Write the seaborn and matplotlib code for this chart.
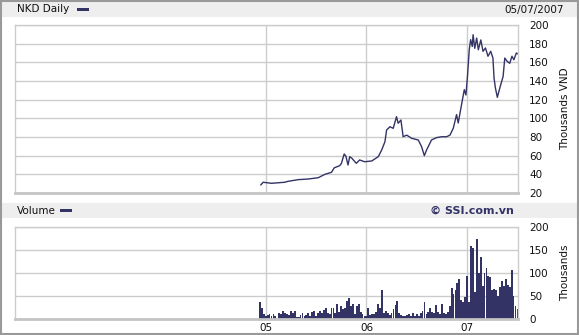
import matplotlib
matplotlib.use("Agg")
import matplotlib.pyplot as plt
import matplotlib.dates as mdates
from matplotlib.patches import Rectangle
import numpy as np
import pandas as pd
import seaborn as sns

# ---------------- data ----------------
price_dates = [
    "2004-12-13", "2004-12-22", "2005-01-21", "2005-03-10", "2005-03-22", "2005-04-28",
    "2005-06-04", "2005-07-10", "2005-08-03", "2005-08-27", "2005-09-06", "2005-09-26",
    "2005-10-02", "2005-10-12", "2005-10-18", "2005-10-26", "2005-11-01", "2005-11-09",
    "2005-11-25", "2005-12-07", "2005-12-25", "2006-01-20", "2006-02-13", "2006-02-25",
    "2006-03-09", "2006-03-15", "2006-03-27", "2006-04-08", "2006-04-20", "2006-04-26",
    "2006-05-06", "2006-05-14", "2006-05-27", "2006-06-14", "2006-07-08", "2006-07-20",
    "2006-07-30", "2006-08-07", "2006-08-25", "2006-09-12", "2006-10-01", "2006-10-19",
    "2006-10-31", "2006-11-12", "2006-11-24", "2006-11-30", "2006-12-12", "2006-12-22",
    "2006-12-28", "2007-01-03", "2007-01-09", "2007-01-14", "2007-01-20", "2007-01-23",
    "2007-01-29", "2007-02-05", "2007-02-11", "2007-02-20", "2007-02-28", "2007-03-09",
    "2007-03-18", "2007-03-28", "2007-04-05", "2007-04-09", "2007-04-14", "2007-04-21",
    "2007-04-30", "2007-05-12", "2007-05-18", "2007-05-27", "2007-06-05", "2007-06-13",
    "2007-06-20", "2007-06-29", "2007-07-05",
]
price_values = [
    28.6, 31.5, 30.4, 31.5, 32.5, 34.3,
    35.0, 36.4, 40.0, 42.2, 47.0, 49.3,
    51.8, 61.8, 59.6, 50.0, 58.9, 57.2,
    51.8, 55.4, 53.5, 54.3, 59.0, 66.0,
    75.0, 87.5, 91.0, 89.3, 101.8, 94.7,
    98.2, 80.3, 82.0, 78.6, 76.8, 69.6,
    60.0, 66.0, 76.8, 79.3, 80.3, 80.3,
    82.0, 89.3, 104.0, 95.0, 114.6, 130.7,
    125.0, 146.8, 173.5, 184.3, 177.0, 189.6,
    175.0, 186.0, 173.5, 184.0, 171.8, 175.4,
    166.5, 171.8, 164.6, 143.2, 132.5, 122.5,
    132.5, 145.0, 164.6, 161.0, 159.0, 166.5,
    162.8, 170.0, 169.0,
]

volume_values = [
    36, 25, 11, 7, 9, 11, 6, 11, 7, 1, 13, 11, 18, 14, 11, 9, 18, 13, 18, 4,
    4, 9, 13, 7, 9, 13, 7, 16, 18, 7, 13, 18, 13, 20, 25, 13, 11, 23, 25, 14,
    33, 16, 29, 22, 23, 40, 45, 29, 33, 11, 29, 33, 16, 11, 7, 7, 25, 9, 11, 11,
    16, 33, 25, 62, 13, 18, 14, 9, 13, 22, 30, 40, 13, 9, 7, 6, 9, 11, 7, 13,
    7, 11, 6, 13, 18, 36, 11, 16, 25, 16, 13, 30, 16, 11, 33, 13, 11, 16, 29, 67,
    54, 62, 78, 86, 42, 38, 47, 93, 38, 159, 154, 58, 175, 101, 134, 72, 101, 110, 94, 91,
    62, 65, 62, 51, 69, 83, 72, 88, 74, 69, 107, 51, 29, 22,
]
volume_start, volume_end = "2004-12-10", "2007-07-03"

price_ticks = [20, 40, 60, 80, 100, 120, 140, 160, 180, 200]
volume_ticks = [0, 50, 100, 150, 200]
year_ticks = ["2005-01-01", "2006-01-01", "2007-01-01"]
year_labels = ["05", "06", "07"]

title_left = "NKD Daily"
title_date = "05/07/2007"
volume_title = "Volume"
credit = "© SSI.com.vn"
price_unit = "Thousands VND"
volume_unit = "Thousands"

x_start, x_end = "2002-07-05", "2007-07-05"

# ---------------- styling ----------------
NAVY = "#333366"
GRID = "#CCCCCC"
STRIP = "#EEEEEE"

sns.set_theme(style="white")
plt.rcParams["font.family"] = ["DejaVu Sans"]

W, H = 579, 335
fig = plt.figure(figsize=(W / 100, H / 100), dpi=100)
fig.patch.set_facecolor("white")


def fbox(left, top, right, bottom):
    return [left / W, 1 - bottom / H, (right - left) / W, (bottom - top) / H]


def frect(left, top, right, bottom, **kw):
    r = Rectangle((left / W, 1 - bottom / H), (right - left) / W, (bottom - top) / H,
                  transform=fig.transFigure, **kw)
    fig.add_artist(r)
    return r


# header strips
frect(2, 2, 577, 16.5, facecolor=STRIP, edgecolor="none", zorder=0)
frect(2, 203, 577, 218, facecolor=STRIP, edgecolor="none", zorder=0)
# outer border
frect(0.75, 0.75, 578.25, 334.25, facecolor="none", edgecolor="#999999", linewidth=1.5, zorder=5)

# legend swatches
frect(77, 7.5, 89, 10.8, facecolor=NAVY, edgecolor="none", zorder=3)
frect(60, 208.5, 72, 211.8, facecolor=NAVY, edgecolor="none", zorder=3)

fs = 7.5
fig.text(17 / W, 1 - 9.5 / H, title_left, ha="left", va="center", fontsize=fs, color="#111111")
fig.text(564 / W, 1 - 9.5 / H, title_date, ha="right", va="center", fontsize=fs, color="#111111")
fig.text(17 / W, 1 - 210.5 / H, volume_title, ha="left", va="center", fontsize=fs, color="#111111")
fig.text(472 / W, 1 - 211 / H, credit, ha="center", va="center", fontsize=8, color=NAVY,
         fontweight="bold")
fig.text(565 / W, 1 - 109 / H, price_unit, ha="center", va="center", rotation=90, fontsize=fs,
         color="#111111")
fig.text(565 / W, 1 - 273 / H, volume_unit, ha="center", va="center", rotation=90, fontsize=fs,
         color="#111111")

# ---------------- data frames ----------------
price_df = pd.DataFrame({"date": mdates.date2num(pd.to_datetime(price_dates)),
                         "price": price_values})
vol_dates = pd.date_range(volume_start, volume_end, periods=len(volume_values))
vol_df = pd.DataFrame({"date": mdates.date2num(vol_dates), "volume": volume_values})

xlim = (mdates.date2num(pd.Timestamp(x_start)), mdates.date2num(pd.Timestamp(x_end)))
xt = mdates.date2num(pd.to_datetime(year_ticks))

# ---------------- price axes ----------------
ax1 = fig.add_axes(fbox(15, 25, 518, 193))
sns.lineplot(data=price_df, x="date", y="price", ax=ax1, color=NAVY, linewidth=1.0,
             estimator=None, sort=False)

# ---------------- volume axes ----------------
ax2 = fig.add_axes(fbox(15, 227, 518, 319))
sns.barplot(data=vol_df, x="date", y="volume", ax=ax2, color=NAVY, native_scale=True,
            errorbar=None, width=0.95, linewidth=0, saturation=1)

for ax, ticks in ((ax1, price_ticks), (ax2, volume_ticks)):
    ax.set_xlim(*xlim)
    ax.set_ylim(ticks[0], ticks[-1])
    ax.set_yticks(ticks)
    ax.set_yticklabels([str(t) for t in ticks])
    ax.yaxis.tick_right()
    ax.set_xticks(xt)
    ax.set_xlabel("")
    ax.set_ylabel("")
    ax.grid(True, color=GRID, linewidth=1)
    ax.set_axisbelow(True)
    ax.tick_params(axis="y", length=0, pad=8, labelsize=fs, labelcolor="#111111")
    ax.tick_params(axis="x", length=0, pad=3, labelsize=fs, labelcolor="#111111")
    for side in ("left", "top", "right"):
        ax.spines[side].set_visible(True)
        ax.spines[side].set_color(GRID)
        ax.spines[side].set_linewidth(1)
    ax.spines["bottom"].set_visible(True)
    ax.spines["bottom"].set_color("#C4C4C4")
    ax.spines["bottom"].set_linewidth(2)
    ax.set_facecolor("white")

ax1.set_xticklabels([])
ax2.set_xticklabels(year_labels)

fig.savefig("out.png", dpi=100)
